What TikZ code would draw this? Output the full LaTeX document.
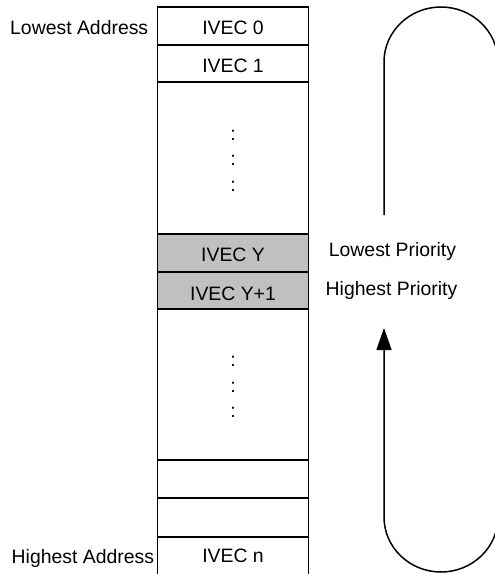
\documentclass[tikz,border=0pt]{standalone}
\usepackage{fontspec}
\setmainfont{Liberation Sans}
\usetikzlibrary{arrows.meta}
\definecolor{cellgray}{RGB}{192,192,192}
\begin{document}
\begin{tikzpicture}[x=1pt,y=1pt,
  cell/.style={draw, line width=1.5pt, inner sep=0, minimum width=151pt},
  shaded/.style={cell, fill=cellgray},
  txt/.style={inner sep=0, anchor=base, font=\fontsize{19.4}{23}\selectfont},
  flow/.style={line width=1.5pt, -{Triangle[length=22pt,width=15pt]}}
]
\useasboundingbox (0,0) rectangle (495,-574);
\begin{scope}
\clip (0,0) rectangle (495,-574);
% memory column
\node[cell, minimum height=38pt] (r0) at (233,-26) {};
\node[cell, minimum height=37pt] (r1) at (233,-63.5) {};
\node[cell, minimum height=152pt] (gA) at (233,-158) {};
\node[shaded, minimum height=38pt] (ry) at (233,-253) {};
\node[shaded, minimum height=37pt] (ry1) at (233,-290.5) {};
\node[cell, minimum height=151pt] (gB) at (233,-384.5) {};
\node[cell, minimum height=38pt] (e1) at (233,-479) {};
\node[cell, minimum height=39pt] (e2) at (233,-517.5) {};
\node[cell, minimum height=39pt] (rn) at (233,-556.5) {};
% texts in cells
\node[txt] (t0) at (233,-34.3) {IVEC 0};
\node[txt] (t1) at (233,-72.7) {IVEC 1};
\node[txt] (ty) at (233,-261.7) {IVEC Y};
\node[txt] (ty1) at (233,-300) {IVEC Y+1};
\node[txt] (tn) at (233,-562.7) {IVEC n};
% ellipsis dots
\node[txt] (dA1) at (233,-140) {:};
\node[txt] (dA2) at (233,-165) {:};
\node[txt] (dA3) at (233,-191) {:};
\node[txt] (dB1) at (233,-366) {:};
\node[txt] (dB2) at (233,-392) {:};
\node[txt] (dB3) at (233,-417) {:};
% side labels
\node[txt, anchor=base west] (lowaddr) at (10,-34.3) {Lowest Address};
\node[txt, anchor=base west] (highaddr) at (11.5,-563) {Highest Address};
\node[txt] (lowprio) at (392.5,-256) {Lowest Priority};
\node[txt] (highprio) at (391.5,-295) {Highest Priority};
% priority loop
\coordinate (fstart) at (384,-215);
\coordinate (fend) at (384,-328);
\draw[flow] (fstart) -- (384,-62)
  arc[start angle=180, end angle=0, x radius=57, y radius=55]
  -- (498,-517)
  arc[start angle=0, end angle=-180, x radius=57, y radius=55]
  -- (fend);
\end{scope}
\end{tikzpicture}
\end{document}
